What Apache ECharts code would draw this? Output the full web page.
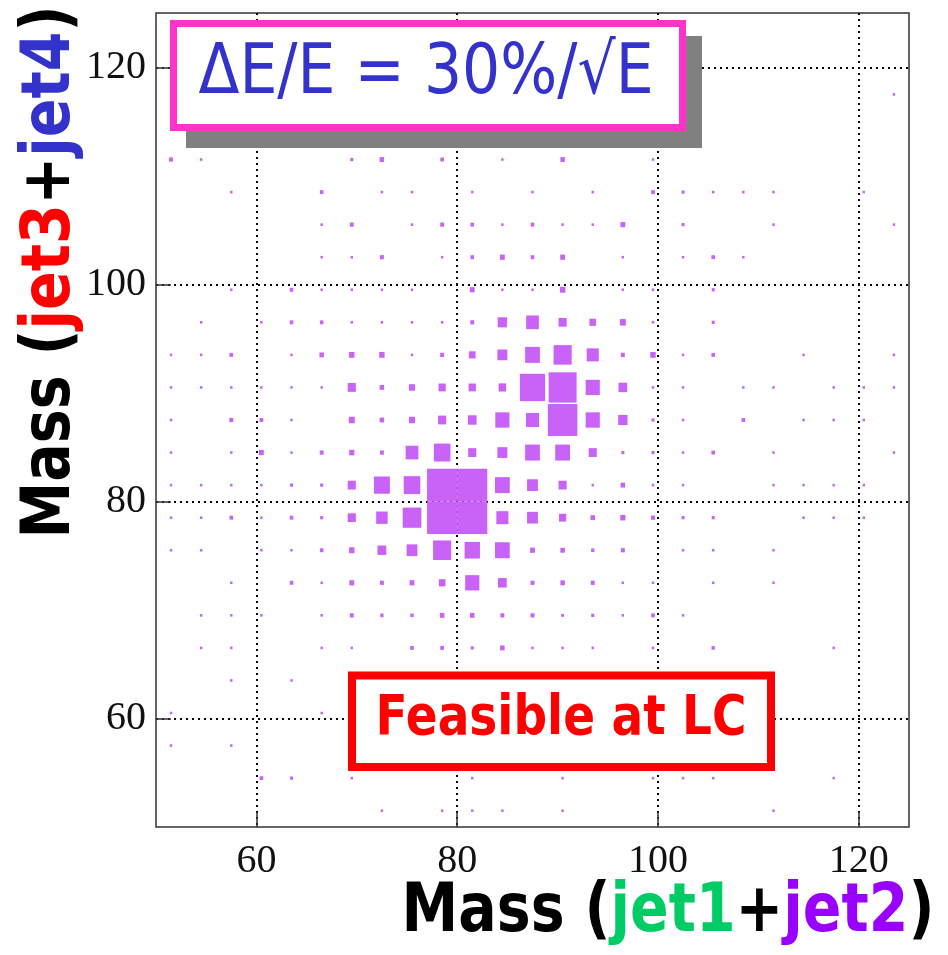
<!DOCTYPE html>
<html>
<head>
<meta charset="utf-8">
<script src="https://cdn.jsdelivr.net/npm/echarts@6/dist/echarts.min.js"></script>
<style>
  html, body { margin: 0; padding: 0; background: #fff; }
  #chart { width: 948px; height: 955px; }
</style>
</head>
<body>
<div id="chart"></div>
<script>
// bin centres (GeV), same binning on both axes
const massBins = [51.5, 54.5, 57.5, 60.5, 63.5, 66.5, 69.5, 72.5, 75.5, 78.5, 81.5, 84.5, 87.5,
  90.5, 93.5, 96.5, 99.5, 102.5, 105.5, 108.5, 111.5, 114.5, 117.5, 120.5, 123.5];
const binWidth = 3;
const gridTicks = [60, 80, 100, 120];

// box side in % of a full bin; rows run from the top bin (123.5) down to 51.5
const boxSize = [
  [0,0,0,0,0,0,0,0,0,0,0,0,0,0,0,0,0,0,0,0,0,0,0,0,0],
  [0,0,0,0,0,0,0,0,0,0,0,0,0,0,0,0,0,0,0,0,0,0,0,0,0],
  [0,0,0,0,0,0,0,0,0,0,0,0,0,0,0,0,0,0,0,0,0,0,0,0,8],
  [0,0,0,0,0,0,0,0,0,0,0,0,0,0,0,0,0,0,0,0,0,0,0,0,0],
  [13,8,0,0,0,0,10,15,0,12,0,8,0,15,0,0,8,0,0,0,0,0,0,0,0],
  [0,0,8,0,0,12,0,8,8,0,8,0,8,0,8,0,12,10,8,8,8,0,0,8,0],
  [0,0,0,0,0,8,13,0,8,13,12,8,12,8,8,16,0,10,0,0,8,0,0,0,8],
  [0,0,0,0,0,8,8,13,0,8,12,16,12,16,0,8,0,8,12,8,0,0,0,0,0],
  [0,0,8,0,12,8,8,8,8,0,16,8,8,18,0,8,8,0,10,0,0,0,0,0,0],
  [0,8,0,8,12,12,8,8,8,8,13,31,42,27,22,20,8,0,10,0,0,0,0,0,0],
  [8,8,12,0,8,15,18,18,8,13,22,33,49,60,40,13,18,8,12,0,0,8,0,0,8],
  [8,8,8,8,8,8,27,15,20,24,24,25,84,93,47,29,8,8,0,8,8,0,8,8,8],
  [8,0,13,12,8,0,20,15,20,27,29,47,43,98,47,31,10,8,0,12,0,8,8,8,0],
  [8,0,8,16,8,13,17,13,42,55,27,33,49,49,27,10,10,8,12,0,8,0,0,0,8],
  [8,8,8,8,10,10,27,53,55,100,100,49,36,27,8,15,8,8,0,0,8,8,8,8,0],
  [8,8,12,8,12,10,27,38,62,100,100,40,36,24,15,17,13,10,10,0,0,8,8,8,0],
  [8,8,0,8,8,12,18,29,36,60,51,49,16,15,11,13,0,8,8,0,8,0,0,0,0],
  [0,0,8,0,12,8,16,13,16,22,47,29,13,15,13,8,8,0,8,0,8,0,0,0,0],
  [0,8,8,8,0,8,13,11,11,15,15,13,13,9,10,8,12,8,0,0,0,0,0,0,0],
  [0,8,8,0,0,8,8,0,12,12,10,15,8,8,8,0,8,0,11,0,0,0,8,0,0],
  [0,0,8,0,8,0,0,0,0,0,0,0,0,0,0,0,0,0,0,0,0,0,0,0,0],
  [8,0,0,0,0,8,0,0,0,0,0,0,0,0,0,0,0,0,0,0,0,0,0,0,0],
  [8,0,8,0,0,0,0,0,0,0,0,0,0,0,0,0,0,0,0,0,0,0,0,0,0],
  [0,0,0,12,10,0,8,0,0,0,8,0,0,8,0,0,8,8,8,0,0,0,8,0,0],
  [0,0,0,0,0,0,0,8,0,8,8,8,0,8,0,0,0,0,0,0,8,0,0,0,0]
];

const boxData = [];
boxSize.forEach((row, r) => {
  const y = massBins[massBins.length - 1 - r];
  row.forEach((v, k) => {
    if (v > 0) boxData.push([massBins[k], y, v]);
  });
});

const titleFont = { fontSize: 57, fontWeight: 'bold', fontFamily: 'DejaVu Sans' };

const myChart = echarts.init(document.getElementById('chart'));

const axisCommon = {
  type: 'value',
  min: 50,
  max: 125,
  axisLine: { show: false },
  axisTick: {
    show: true, inside: true, length: 15, customValues: gridTicks,
    lineStyle: { color: '#333', width: 1.5 }
  },
  axisLabel: {
    customValues: gridTicks,
    fontFamily: 'Liberation Serif',
    fontSize: 40,
    color: '#111'
  },
  splitLine: {
    show: true,
    lineStyle: { type: [2, 4], color: '#000', width: 2 }
  }
};

const option = {
  animation: false,
  backgroundColor: '#fff',
  grid: {
    left: 156, right: 39, top: 13, bottom: 128,
    show: true, borderColor: '#333', borderWidth: 1.5
  },
  xAxis: Object.assign({}, axisCommon, {
    axisLabel: Object.assign({}, axisCommon.axisLabel, { margin: 14 })
  }),
  yAxis: Object.assign({}, axisCommon, {
    axisLabel: Object.assign({}, axisCommon.axisLabel, { margin: 10 })
  }),
  series: [{
    type: 'custom',
    data: boxData,
    renderItem: function (params, api) {
      const c = api.coord([api.value(0), api.value(1)]);
      const s = api.size([binWidth, binWidth]);
      const f = api.value(2) / 100;
      const w = s[0] * f, h = s[1] * f;
      return {
        type: 'rect',
        shape: { x: c[0] - w / 2, y: c[1] - h / 2, width: w, height: h },
        style: { fill: '#c962f7' }
      };
    }
  }],
  graphic: [
    { type: 'rect', z: 100, shape: { x: 186, y: 36, width: 516, height: 112 }, style: { fill: '#808080' } },
    { type: 'rect', z: 101, shape: { x: 173.5, y: 23.5, width: 509, height: 104 },
      style: { fill: '#fff', stroke: '#ff33cc', lineWidth: 7 } },
    { type: 'text', z: 102, x: 426, y: 75, scaleY: 1.17,
      style: { text: 'ΔE/E = 30%/√E', fill: '#3333cc', fontSize: 60, fontFamily: 'DejaVu Sans',
        align: 'center', verticalAlign: 'middle', textAlign: 'center', textVerticalAlign: 'middle' } },
    { type: 'rect', z: 101, shape: { x: 352, y: 675.5, width: 419, height: 91.5 },
      style: { fill: '#fff', stroke: '#ff0000', lineWidth: 8 } },
    { type: 'text', z: 102, x: 561, y: 720, scaleY: 1.18,
      style: { text: 'Feasible at LC', fill: '#ff0000', fontSize: 47, fontWeight: 'bold', fontFamily: 'DejaVu Sans',
        align: 'center', verticalAlign: 'middle', textAlign: 'center', textVerticalAlign: 'middle' } },
    { type: 'text', z: 102, x: 668, y: 914, scaleY: 1.18,
      style: Object.assign({
        text: '{k|Mass (}{g|jet1}{k|+}{p|jet2}{k|)}',
        align: 'center', verticalAlign: 'middle', textAlign: 'center', textVerticalAlign: 'middle',
        rich: {
          k: Object.assign({ fill: '#000', color: '#000' }, titleFont),
          g: Object.assign({ fill: '#00cc66', color: '#00cc66' }, titleFont),
          p: Object.assign({ fill: '#9900ff', color: '#9900ff' }, titleFont)
        }
      }, titleFont) },
    { type: 'text', z: 102, x: 52, y: 272, rotation: Math.PI / 2, scaleY: 1.18,
      style: Object.assign({
        text: '{k|Mass (}{r|jet3}{k|+}{b|jet4}{k|)}',
        align: 'center', verticalAlign: 'middle', textAlign: 'center', textVerticalAlign: 'middle',
        rich: {
          k: Object.assign({ fill: '#000', color: '#000' }, titleFont),
          r: Object.assign({ fill: '#ff0000', color: '#ff0000' }, titleFont),
          b: Object.assign({ fill: '#3333cc', color: '#3333cc' }, titleFont)
        }
      }, titleFont) }
  ]
};

myChart.setOption(option, true);
</script>
</body>
</html>
